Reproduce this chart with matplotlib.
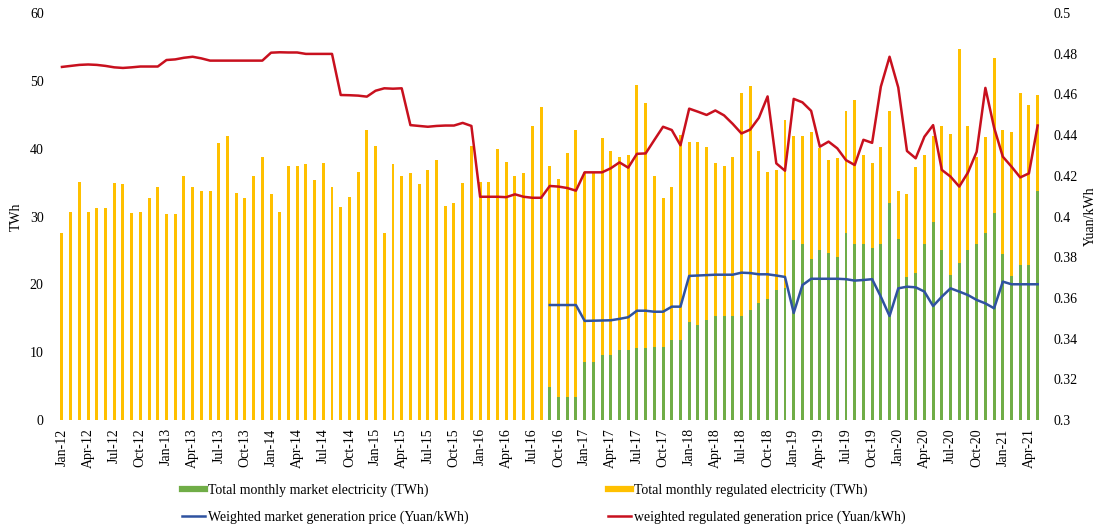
import numpy as np
import pandas as pd
import matplotlib
matplotlib.use("Agg")
import matplotlib.pyplot as plt
from matplotlib.lines import Line2D

plt.rcParams['font.family'] = ['Liberation Serif', 'DejaVu Serif']

# ---------------- data ----------------
months = pd.date_range('2012-01-01', periods=113, freq='MS').strftime('%b-%y').tolist()

total = [27.5, 30.7, 35.1, 30.7, 31.2, 31.2, 35.0, 34.8, 30.5, 30.6, 32.7, 34.4,
         30.4, 30.4, 35.9, 34.4, 33.8, 33.7, 40.8, 41.9, 33.5, 32.8, 35.9, 38.7,
         33.3, 30.6, 37.4, 37.4, 37.8, 35.4, 37.9, 34.4, 31.4, 32.9, 36.5, 42.7,
         40.4, 27.5, 37.8, 36.0, 36.4, 34.8, 36.9, 38.4, 31.5, 32.0, 35.0, 40.4,
         35.1, 35.1, 39.9, 38.1, 35.9, 36.4, 43.3, 46.2]  # Jan-12 .. Aug-16 (all regulated)

market = [0.0] * 56 + [
    4.9, 3.4, 3.4, 3.4,
    8.6, 8.6, 9.6, 9.6, 10.3, 10.3, 10.6, 10.6, 10.8, 10.8, 11.8, 11.8,
    14.5, 14.0, 14.7, 15.3, 15.3, 15.3, 15.3, 16.2, 17.2, 17.9, 19.2, 19.4,
    26.6, 26.0, 23.8, 25.1, 24.6, 24.1, 27.5, 26.0, 26.0, 25.3, 26.0, 32.0,
    26.7, 21.1, 21.6, 26.0, 29.2, 25.1, 21.4, 23.1, 25.1, 26.0, 27.5, 30.5,
    24.5, 21.2, 22.8, 22.9, 33.7]

regulated = total + [
    32.5, 32.2, 36.0, 39.3,
    28.0, 28.0, 31.9, 30.0, 28.5, 28.8, 38.8, 36.1, 25.1, 21.9, 22.6, 30.2,
    26.5, 27.0, 25.6, 22.6, 22.2, 23.5, 32.9, 33.0, 22.4, 18.7, 17.6, 24.8,
    15.2, 15.8, 18.7, 15.0, 13.7, 14.5, 18.0, 21.2, 13.1, 12.6, 14.3, 13.5,
    7.1, 12.2, 15.7, 13.1, 12.6, 18.3, 20.8, 31.6, 18.3, 12.8, 14.2, 22.8,
    18.3, 21.3, 25.4, 23.5, 14.2]

reg_price = [0.4735, 0.4740, 0.4745, 0.4747, 0.4745, 0.4740, 0.4733, 0.4730, 0.4733, 0.4737, 0.4737, 0.4737,
             0.4769, 0.4772, 0.4780, 0.4785, 0.4777, 0.4766, 0.4766, 0.4766, 0.4766, 0.4766, 0.4766, 0.4766,
             0.4805, 0.4807, 0.4806, 0.4806, 0.4799, 0.4799, 0.4799, 0.4799, 0.4597, 0.4596, 0.4594, 0.4589,
             0.4618, 0.4630, 0.4628, 0.4630, 0.4449, 0.4445, 0.4441, 0.4445, 0.4447, 0.4447, 0.4460, 0.4445,
             0.4097, 0.4097, 0.4097, 0.4095, 0.4109, 0.4097, 0.4092, 0.4092, 0.4150, 0.4147, 0.4140, 0.4127,
             0.4217, 0.4217, 0.4217, 0.4237, 0.4266, 0.4240, 0.4308, 0.4310, 0.4376, 0.4441, 0.4425, 0.4350,
             0.4530, 0.4515, 0.4499, 0.4521, 0.4497, 0.4455, 0.4408, 0.4427, 0.4485, 0.4590, 0.4261, 0.4225,
             0.4578, 0.4561, 0.4519, 0.4343, 0.4368, 0.4335, 0.4277, 0.4253, 0.4377, 0.4362, 0.4638, 0.4785,
             0.4634, 0.4322, 0.4286, 0.4392, 0.4449, 0.4229, 0.4196, 0.4147, 0.4216, 0.4318, 0.4632, 0.4437,
             0.4294, 0.4245, 0.4192, 0.4212, 0.4447]

mkt_price = [np.nan] * 56 + [
    0.3565, 0.3565, 0.3565, 0.3565,
    0.3487, 0.3488, 0.3489, 0.3490, 0.3497, 0.3505, 0.3537, 0.3537, 0.3532, 0.3532, 0.3557, 0.3557,
    0.3708, 0.3710, 0.3712, 0.3714, 0.3714, 0.3714, 0.3724, 0.3722, 0.3716, 0.3716, 0.3710, 0.3703,
    0.3526, 0.3663, 0.3694, 0.3694, 0.3694, 0.3694, 0.3692, 0.3685, 0.3688, 0.3692, 0.3606, 0.3511,
    0.3647, 0.3655, 0.3652, 0.3631, 0.3560, 0.3606, 0.3647, 0.3631, 0.3614, 0.3590, 0.3573, 0.3549,
    0.3680, 0.3667, 0.3667, 0.3667, 0.3667]

left_ticks = [0, 10, 20, 30, 40, 50, 60]
right_ticks = [0.30, 0.32, 0.34, 0.36, 0.38, 0.40, 0.42, 0.44, 0.46, 0.48, 0.50]

GREEN = '#70AD47'
ORANGE = '#FFC000'
BLUE = '#2F52A0'
RED = '#C8101E'
FS = 10

# ---------------- plot ----------------
fig = plt.figure(figsize=(11.04, 5.29), dpi=100)
ax = fig.add_axes([57.6 / 1104, 1 - 420 / 529, (1042 - 57.6) / 1104, (420 - 13) / 529])
x = np.arange(len(months))
w = 0.34
ax.bar(x, market, width=w, color=GREEN, linewidth=0)
ax.bar(x, regulated, width=w, bottom=market, color=ORANGE, linewidth=0)
ax.set_xlim(-0.5, len(months) - 0.5)
ax.set_ylim(0, 60)
ax.set_yticks(left_ticks)
ax.set_yticklabels([str(t) for t in left_ticks], fontsize=FS)
ax.set_xticks(x[::3])
ax.set_xticklabels(months[::3], rotation=90, fontsize=FS)
ax.tick_params(length=0, pad=6)
ax.tick_params(axis='y', pad=10)
ax.set_ylabel('TWh', fontsize=FS, labelpad=5)

ax2 = ax.twinx()
ax2.plot(x, mkt_price, color=BLUE, lw=1.8)
ax2.plot(x, reg_price, color=RED, lw=1.8)
ax2.set_ylim(0.3, 0.5)
ax2.set_yticks(right_ticks)
ax2.set_yticklabels(['%g' % t for t in right_ticks], fontsize=FS)
ax2.tick_params(length=0, pad=8)
ax2.set_ylabel('Yuan/kWh', fontsize=FS, labelpad=5)

for a in (ax, ax2):
    for s in a.spines.values():
        s.set_visible(False)

h1 = [Line2D([], [], color=GREEN, lw=4.5), Line2D([], [], color=BLUE, lw=1.8)]
l1 = ['Total monthly market electricity (TWh)', 'Weighted market generation price (Yuan/kWh)']
h2 = [Line2D([], [], color=ORANGE, lw=4.5), Line2D([], [], color=RED, lw=1.8)]
l2 = ['Total monthly regulated electricity (TWh)', 'weighted regulated generation price (Yuan/kWh)']
for hh, ll, x0 in ((h1, l1, 182), (h2, l2, 608)):
    fig.legend(hh, ll, loc='upper left', bbox_to_anchor=(x0 / 1104, 1 - 484 / 529),
               frameon=False, fontsize=FS, handlelength=1.65, handletextpad=0.25,
               borderpad=0, borderaxespad=0, labelspacing=0.95)

fig.savefig('out.png', dpi=100)
